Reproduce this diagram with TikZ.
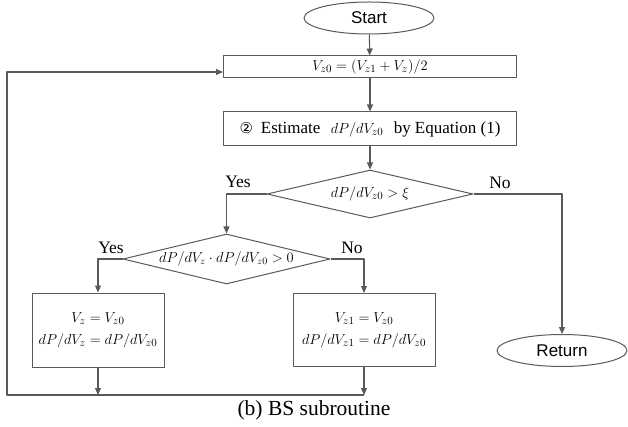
\documentclass[tikz,border=0pt]{standalone}
\usepackage{fontspec}
\setmainfont{Liberation Serif}
\setsansfont{Liberation Sans}
\newfontfamily\circfont{DejaVu Sans}
\usepackage{tikz}
\usetikzlibrary{arrows.meta,shapes.geometric}

\begin{document}
\begin{tikzpicture}[x=1pt,y=-1pt,>={Triangle[length=7pt,width=6pt]},line join=round,
  every node/.style={font=\fontsize{15}{22}\selectfont},
  link/.style={draw=black!65,line width=1.1pt},
  term/.style={ellipse,draw=black!65,line width=1pt,inner sep=0pt,minimum width=130pt,minimum height=32pt,font=\sffamily\fontsize{17}{18}\selectfont},
  proc/.style={rectangle,draw=black!65,line width=1pt,inner sep=0pt,align=center},
  cond/.style={diamond,draw=black!65,line width=1pt,inner sep=0pt,aspect=4.2},
  tag/.style={font=\fontsize{17.5}{18}\selectfont}]
  \useasboundingbox (0,0) rectangle (628,427);
  \node[term] (start) at (369,18) {Start};
  \node[proc,minimum width=293pt,minimum height=22pt] (upd) at (370,67) {$V_{z0}=(V_{z1}+V_z)/2$};
  \node[proc,minimum width=293pt,minimum height=34pt] (est) at (370,129) {{\circfont\fontsize{15}{16}\selectfont ②}\; {\fontsize{17}{18}\selectfont Estimate}\;\, $dP/dV_{z0}$\;\, {\fontsize{17}{18}\selectfont by Equation (1)}};
  \node[cond,minimum width=206pt,minimum height=48pt] (dec1) at (370,194) {$dP/dV_{z0}>\xi$};
  \node[cond,minimum width=207pt,minimum height=50pt,font=\fontsize{14}{16}\selectfont] (dec2) at (226.5,259) {$dP/dV_z\cdot dP/dV_{z0}>0$};
  \node[proc,minimum width=132pt,minimum height=74pt] (setz) at (98,330) {$V_z=V_{z0}$\\$dP/dV_z=dP/dV_{z0}$};
  \node[proc,minimum width=142pt,minimum height=73pt] (setzi) at (364,330) {$V_{z1}=V_{z0}$\\$dP/dV_{z1}=dP/dV_{z0}$};
  \node[term] (ret) at (562,350.5) {Return};
  \coordinate (merge) at (7,395);
  \coordinate (back) at (7,72);
  \draw[link,->] (start) -- (upd);
  \draw[link,->] (upd) -- (est);
  \draw[link,->] (est) -- (dec1);
  \draw[link,->] (dec1.west) -| (dec2.north);
  \draw[link,->] (dec1.east) -| (ret.north);
  \draw[link,->] (dec2.west) -| (setz.north);
  \draw[link,->] (dec2.east) -| (setzi.north);
  \draw[link,->] (setz) -- (setz.south |- merge);
  \draw[link,->] (setzi) -- (setzi.south |- merge);
  \draw[link,->] (setzi.south |- merge) -- (merge) -- (back) -- (upd.west |- back);
  \node[tag] (yes1) at (238,182) {Yes};
  \node[tag] (no1) at (500,183) {No};
  \node[tag] (yes2) at (111,248) {Yes};
  \node[tag] (no2) at (352,248) {No};
  \node[font=\fontsize{21.5}{24}\selectfont] (cap) at (314,410) {(b) BS subroutine};
\end{tikzpicture}
\end{document}
